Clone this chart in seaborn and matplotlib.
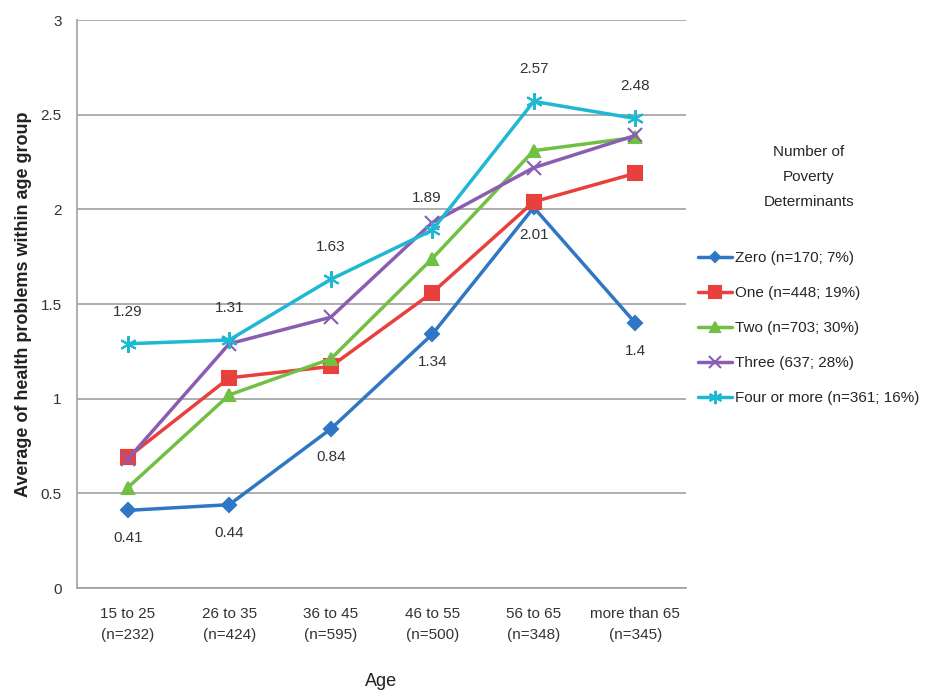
import numpy as np
import pandas as pd
import matplotlib.pyplot as plt
import seaborn as sns

# data
age_groups = ['15 to 25\n(n=232)', '26 to 35\n(n=424)', '36 to 45\n(n=595)',
              '46 to 55\n(n=500)', '56 to 65\n(n=348)', 'more than 65\n(n=345)']
zero = [0.41, 0.44, 0.84, 1.34, 2.01, 1.40]
one = [0.69, 1.11, 1.17, 1.56, 2.04, 2.19]
two = [0.53, 1.02, 1.21, 1.74, 2.31, 2.38]
three = [0.68, 1.29, 1.43, 1.93, 2.22, 2.39]
four = [1.29, 1.31, 1.63, 1.89, 2.57, 2.48]

series_names = ['Zero (n=170; 7%)', 'One (n=448; 19%)', 'Two (n=703; 30%)',
                'Three (637; 28%)', 'Four or more (n=361; 16%)']
series_values = [zero, one, two, three, four]

df = pd.DataFrame({
    'age': np.tile(age_groups, len(series_names)),
    'value': np.concatenate(series_values),
    'group': np.repeat(series_names, len(age_groups)),
})

sns.set_style('white')
plt.rcParams['font.family'] = ['Liberation Sans', 'DejaVu Sans']

colors = ['#2F77C4', '#E8403C', '#72C043', '#8A5DB3', '#1DB8D2']
markers = ['D', 's', '^', 'x', (6, 2, 0)]
msizes = [7, 10, 9, 10, 12]

fig = plt.figure(figsize=(9.29, 6.91), dpi=100)
ax = fig.add_axes([77 / 929, 1 - 588 / 691, (686 - 77) / 929, (588 - 20) / 691])

for name, col, mk, ms in zip(series_names, colors, markers, msizes):
    sub = df[df['group'] == name]
    sns.lineplot(data=sub, x='age', y='value', ax=ax, color=col, marker=mk,
                 markersize=ms, markeredgecolor=col, markeredgewidth=1.5,
                 linewidth=2.5, label=name, sort=False)

# data labels: four or more above, zero below
for i, v in enumerate(four):
    dx = -0.05 if i == 3 else 0
    ax.annotate(f'{v:g}', (i + dx, v), xytext=(0, 18), textcoords='offset points',
                ha='center', va='bottom', fontsize=11, color='#333333')
for i, v in enumerate(zero):
    ax.annotate(f'{v:g}', (i, v), xytext=(0, -15), textcoords='offset points',
                ha='center', va='top', fontsize=11, color='#333333')

ax.set_xlim(-0.5, 5.5)
ax.set_ylim(0, 3)
ax.set_yticks(np.arange(0, 3.01, 0.5))
ax.set_yticklabels(['0', '0.5', '1', '1.5', '2', '2.5', '3'])
ax.yaxis.grid(True, color='#a0a0a0', linewidth=1.2)
ax.set_axisbelow(True)

# category separators on the x axis, like the original
ax.set_xticks(np.arange(-0.5, 6, 1))
ax.set_xticklabels([])
ax.set_xticks(np.arange(6), minor=True)
ax.set_xticklabels(age_groups, minor=True, fontsize=11, color='#333333',
                   linespacing=1.6)
ax.tick_params(axis='x', which='major', length=6, color='#a0a0a0', direction='out')
ax.tick_params(axis='x', which='minor', length=0, pad=14)
ax.tick_params(axis='y', length=5, color='#a0a0a0', direction='out', labelsize=11,
               labelcolor='#333333', pad=6)

for side in ['top', 'right']:
    ax.spines[side].set_visible(False)
for side in ['left', 'bottom']:
    ax.spines[side].set_color('#a0a0a0')
    ax.spines[side].set_linewidth(1.2)

ax.set_xlabel('Age', fontsize=13, color='#222222', labelpad=22)
ax.set_ylabel('Average of health problems within age group', fontsize=13,
              fontweight='bold', color='#222222', labelpad=6)

leg = ax.legend(title='Number of\nPoverty\nDeterminants', loc='upper left',
                bbox_to_anchor=(1.01, 0.79), frameon=False, fontsize=11,
                title_fontsize=11, labelspacing=1.38, handlelength=2.2,
                handletextpad=0.2, borderaxespad=0, markerscale=0.8)
leg.get_title().set_multialignment('center')
leg.get_title().set_linespacing(2.0)
leg._legend_box.align = 'center'
leg._legend_box.sep = 30

fig.savefig('out.png', dpi=100)
